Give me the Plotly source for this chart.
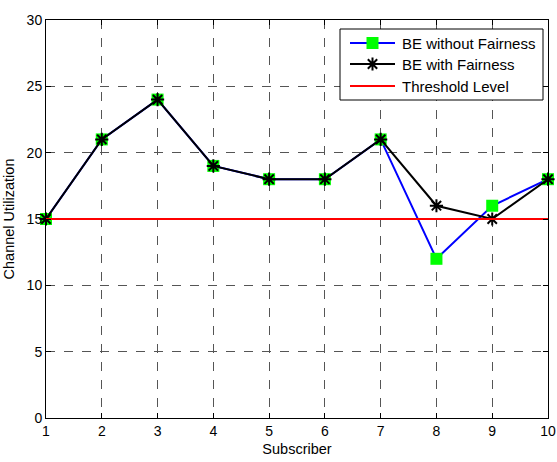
import plotly.graph_objects as go

subscribers = [1, 2, 3, 4, 5, 6, 7, 8, 9, 10]
be_without = [15, 21, 24, 19, 18, 18, 21, 12, 16, 18]
be_with = [15, 21, 24, 19, 18, 18, 21, 16, 15, 18]
threshold = 15
series_names = ["BE without Fairness", "BE with Fairness", "Threshold Level"]

BLUE, GREEN, BLACK, RED = "#0000ff", "#00ff00", "#000000", "#ff0000"
sq_marker = dict(symbol="square", size=12, color=GREEN, line=dict(width=0))
ast_marker = dict(symbol="asterisk-open", size=11, color=BLACK, line=dict(width=2, color=BLACK))

fig = go.Figure()
fig.add_trace(go.Scatter(
    x=subscribers, y=be_without, mode="lines+markers", name=series_names[0],
    line=dict(color=BLUE, width=2), marker=sq_marker, cliponaxis=False, showlegend=False,
))
fig.add_trace(go.Scatter(
    x=subscribers, y=be_with, mode="lines+markers", name=series_names[1],
    line=dict(color=BLACK, width=2), marker=ast_marker, cliponaxis=False, showlegend=False,
))
fig.add_trace(go.Scatter(
    x=[subscribers[0], subscribers[-1]], y=[threshold, threshold], mode="lines",
    name=series_names[2], line=dict(color=RED, width=2), showlegend=False,
))

# ---- manual MATLAB-style legend, on an overlay axis in pixel units ----
L_X0, L_X1, L_Y0, L_Y1 = 340, 543, 29, 100
row_y = [43, 64, 86]
seg_x0, seg_x1, txt_x = 350, 395, 400
fig.add_trace(go.Scatter(
    x=[L_X0, L_X1, L_X1, L_X0, L_X0], y=[L_Y0, L_Y0, L_Y1, L_Y1, L_Y0],
    mode="lines", fill="toself", fillcolor="white", line=dict(color=BLACK, width=1),
    xaxis="x2", yaxis="y2", showlegend=False, hoverinfo="skip",
))
styles = [(BLUE, sq_marker), (BLACK, ast_marker), (RED, None)]
for (col, mk), ry, name in zip(styles, row_y, series_names):
    fig.add_trace(go.Scatter(
        x=[seg_x0, seg_x1], y=[ry, ry], mode="lines", line=dict(color=col, width=2),
        xaxis="x2", yaxis="y2", showlegend=False, hoverinfo="skip",
    ))
    if mk is not None:
        fig.add_trace(go.Scatter(
            x=[(seg_x0 + seg_x1) / 2], y=[ry], mode="markers", marker=mk,
            xaxis="x2", yaxis="y2", showlegend=False, hoverinfo="skip",
        ))
    fig.add_annotation(x=txt_x, y=ry, xref="x2", yref="y2", text=name, showarrow=False,
                       xanchor="left", yanchor="middle", font=dict(size=15, color=BLACK))

axis_common = dict(
    showline=True, linecolor="black", linewidth=1, mirror="allticks",
    ticks="inside", ticklen=5, tickcolor="black",
    showgrid=True, gridcolor="#555", griddash="dash", gridwidth=1,
    zeroline=False, tickfont=dict(size=14, color="black"), automargin=False,
)

fig.update_layout(
    width=557, height=462,
    margin=dict(l=46, r=9, t=20, b=44),
    paper_bgcolor="white", plot_bgcolor="white",
    font=dict(family="Liberation Sans, Arial, sans-serif", size=14, color="black"),
    xaxis=dict(range=[1, 10], tickvals=subscribers,
               title=dict(text="Subscriber", standoff=6, font=dict(size=14.5)), **axis_common),
    yaxis=dict(range=[0, 30], tickvals=[0, 5, 10, 15, 20, 25, 30],
               title=dict(text="Channel Utilization", standoff=8, font=dict(size=14.5)), **axis_common),
    xaxis2=dict(overlaying="x", range=[46, 548], visible=False, fixedrange=True),
    yaxis2=dict(overlaying="y", range=[418, 20], visible=False, fixedrange=True),
    showlegend=False,
)

fig.write_html("out.html")
